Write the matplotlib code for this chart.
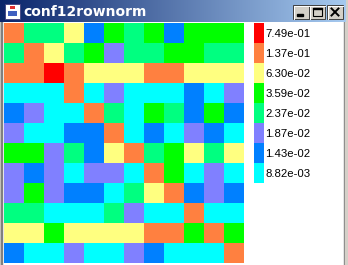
import numpy as np
import matplotlib
matplotlib.use("Agg")
import matplotlib.pyplot as plt
from matplotlib.colors import ListedColormap
from matplotlib.patches import Rectangle

# legend levels, top to bottom
level_labels = ["7.49e-01", "1.37e-01", "6.30e-02", "3.59e-02",
                "2.37e-02", "1.87e-02", "1.43e-02", "8.82e-03"]
level_colors = ["#ff0000", "#ff8040", "#ffff80", "#00ff00",
                "#00ff80", "#8080ff", "#0080ff", "#00ffff"]

# bin rank of each cell (0 = lowest bin 8.82e-03, 7 = highest 7.49e-01)
grid = [
    [6, 3, 3, 5, 1, 4, 3, 4, 1, 4, 4, 4],
    [3, 6, 5, 3, 4, 2, 3, 3, 4, 4, 3, 3],
    [6, 6, 7, 6, 5, 5, 5, 6, 6, 5, 5, 5],
    [0, 0, 0, 6, 0, 2, 0, 0, 0, 1, 0, 2],
    [1, 2, 0, 0, 6, 3, 0, 4, 3, 1, 4, 1],
    [2, 0, 0, 1, 1, 6, 0, 1, 0, 2, 1, 0],
    [4, 4, 2, 3, 1, 5, 6, 3, 4, 5, 3, 5],
    [2, 1, 2, 0, 2, 2, 0, 6, 4, 0, 2, 0],
    [2, 4, 2, 1, 1, 0, 3, 5, 6, 1, 2, 1],
    [3, 3, 0, 0, 0, 3, 2, 0, 0, 6, 0, 0],
    [5, 5, 4, 5, 5, 5, 5, 6, 6, 4, 6, 4],
    [1, 0, 0, 2, 0, 0, 2, 1, 0, 0, 0, 6],
]

title = "conf12rownorm"

W, H = 348, 265
cmap = ListedColormap(level_colors[::-1])

fig = plt.figure(figsize=(W / 100, H / 100), dpi=100, facecolor="white")


def px_axes(x0, y0, w, h):
    # axes placed by pixel box measured from the top-left corner
    return fig.add_axes([x0 / W, (H - y0 - h) / H, w / W, h / H])


# window frame
frame = px_axes(0, 0, W, H)
frame.set_xlim(0, W)
frame.set_ylim(H, 0)
frame.axis("off")
frame.add_patch(Rectangle((0, 0), 1, H, color="#d4d0c8"))
frame.add_patch(Rectangle((1, 0), 1, H, color="#808080"))
frame.add_patch(Rectangle((W - 4, 0), 1, H, color="#808080"))
frame.add_patch(Rectangle((W - 3, 0), 3, H, color="#d4d0c8"))

# title bar gradient
tb = px_axes(0, 0, W - 2, 22)
grad = np.linspace(0, 1, 256)
c0 = np.array([10, 36, 106]) / 255
c1 = np.array([166, 202, 240]) / 255
tb.imshow((c0[None, :] + (c1 - c0)[None, :] * grad[:, None])[None, :, :],
          aspect="auto", extent=(0, W - 2, 22, 0))
tb.set_xlim(0, W - 2)
tb.set_ylim(22, 0)
tb.axis("off")
tb.text(23, 11.5, title, color="white", fontsize=10, fontweight="bold",
        family="DejaVu Sans", va="center", ha="left")

# small window icon
tb.add_patch(Rectangle((5, 4), 15, 15, facecolor="white", edgecolor="#404080", lw=0.6))
tb.add_patch(Rectangle((8, 11), 9, 5, facecolor="#4060c0", edgecolor="none"))
tb.add_patch(Rectangle((10, 6), 5, 3, facecolor="#e03030", edgecolor="none"))

# title bar buttons
for bx, glyph in [(293, "min"), (309, "max"), (327, "close")]:
    tb.add_patch(Rectangle((bx, 5), 16, 14, facecolor="#d4d0c8",
                           edgecolor="#404040", lw=0.7))
    tb.plot([bx + 0.5, bx + 15.5], [5.5, 5.5], color="white", lw=0.7)
    tb.plot([bx + 0.5, bx + 0.5], [5.5, 18.5], color="white", lw=0.7)
    if glyph == "min":
        tb.add_patch(Rectangle((bx + 4, 14), 6, 2, color="black"))
    elif glyph == "max":
        tb.add_patch(Rectangle((bx + 3.5, 7.5), 9, 8, facecolor="none",
                               edgecolor="black", lw=0.8))
        tb.add_patch(Rectangle((bx + 3.5, 7.5), 9, 1.5, color="black"))
    else:
        tb.plot([bx + 4.5, bx + 11.5], [8.5, 15.5], color="black", lw=1.4)
        tb.plot([bx + 4.5, bx + 11.5], [15.5, 8.5], color="black", lw=1.4)

# heatmap
ax = px_axes(4, 23, 240, 240)
ax.imshow(np.array(grid), cmap=cmap, vmin=-0.5, vmax=7.5,
          interpolation="nearest", aspect="auto")
ax.axis("off")

# legend colour strip with labels
n = len(level_labels)
cax = px_axes(254, 23, 10, 20 * n)
cax.imshow(np.arange(n)[::-1][:, None], cmap=cmap, vmin=-0.5, vmax=7.5,
           interpolation="nearest", aspect="auto")
cax.set_xticks([])
cax.yaxis.tick_right()
cax.set_yticks(range(n))
cax.set_yticklabels(level_labels, family="Liberation Sans", fontsize=8.2)
cax.tick_params(axis="y", length=0, pad=1)
for s in cax.spines.values():
    s.set_visible(False)

fig.savefig("out.png", dpi=100, facecolor="white")
